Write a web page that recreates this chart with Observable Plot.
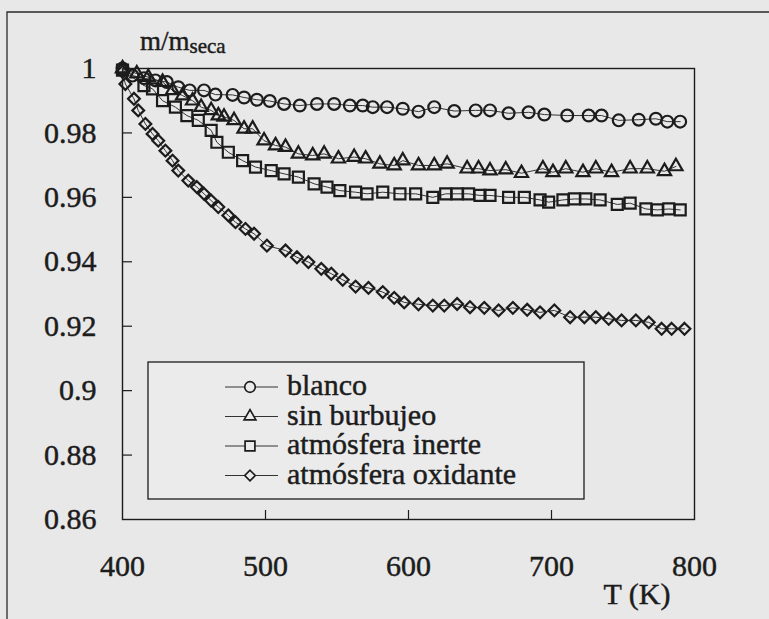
<!DOCTYPE html>
<html>
<head>
<meta charset="utf-8">
<script src="https://cdn.jsdelivr.net/npm/d3@7"></script>
<script src="https://cdn.jsdelivr.net/npm/@observablehq/plot@0.6"></script>
<style>
html, body { margin: 0; padding: 0; background: #e8e8e8; }
#chart { position: relative; width: 769px; height: 619px; overflow: hidden; }
#chart svg text { font-family: "Liberation Serif", Tinos, "Times New Roman", Times, "Nimbus Roman", "DejaVu Serif", serif !important; stroke: #1c1c1c; stroke-width: 0.45px; }
</style>
</head>
<body>
<div id="chart"></div>
<script>
// ---- data ----
const seriesNames = ["blanco", "sin burbujeo", "atmósfera inerte", "atmósfera oxidante"];
const seriesSymbols = ["circle", "triangle", "square", "diamond2"];
const xTicks = [400, 500, 600, 700, 800];
const yTicks = [0.86, 0.88, 0.9, 0.92, 0.94, 0.96, 0.98, 1];
const yLabel = "m/m";
const yLabelSub = "seca";
const xLabel = "T (K)";

const blancoT = [400, 407, 415, 423, 431, 439, 447, 457, 465, 477, 485, 494, 503, 513, 524, 536, 548, 559, 568, 575, 585, 596, 607, 618, 632, 647, 657, 670, 684, 695, 711, 726, 735, 747, 761, 773, 781, 790];
const blancoV = [1.000, 0.9978, 0.9970, 0.9963, 0.9958, 0.9942, 0.9932, 0.9932, 0.9919, 0.9918, 0.9910, 0.9903, 0.9899, 0.9890, 0.9885, 0.9890, 0.9890, 0.9885, 0.9885, 0.9880, 0.9880, 0.9875, 0.9866, 0.9880, 0.9868, 0.9870, 0.9870, 0.9861, 0.9864, 0.9857, 0.9854, 0.9854, 0.9854, 0.9839, 0.9841, 0.9844, 0.9835, 0.9835];

const burbT = [400, 410, 418, 428, 435, 442, 449, 455, 462, 467, 471, 478, 485, 491, 499, 507, 514, 523, 533, 541, 551, 562, 570, 580, 590, 596, 607, 618, 627, 641, 649, 657, 668, 679, 694, 701, 710, 722, 731, 742, 755, 767, 779, 787];
const burbV = [1.000, 0.9984, 0.9973, 0.9958, 0.9932, 0.9916, 0.9900, 0.9880, 0.9870, 0.9854, 0.9850, 0.9839, 0.9813, 0.9813, 0.9776, 0.9761, 0.9756, 0.9735, 0.9730, 0.9735, 0.9720, 0.9725, 0.9720, 0.9704, 0.9699, 0.9714, 0.9699, 0.9699, 0.9704, 0.9689, 0.9689, 0.9683, 0.9686, 0.9675, 0.9689, 0.9678, 0.9689, 0.9678, 0.9689, 0.9678, 0.9689, 0.9689, 0.9681, 0.9696];

const inerteT = [400, 415, 421, 428, 437, 445, 453, 462, 466, 474, 484, 493, 504, 513, 523, 534, 543, 552, 563, 571, 582, 594, 605, 617, 626, 634, 642, 650, 657, 670, 681, 692, 698, 708, 716, 724, 734, 746, 755, 766, 774, 782, 790];
const inerteV = [0.9995, 0.9947, 0.9937, 0.9900, 0.9880, 0.9854, 0.9839, 0.9808, 0.9771, 0.9740, 0.9714, 0.9694, 0.9683, 0.9673, 0.9663, 0.9642, 0.9632, 0.9621, 0.9616, 0.9611, 0.9616, 0.9611, 0.9611, 0.9600, 0.9611, 0.9611, 0.9611, 0.9606, 0.9606, 0.9600, 0.9600, 0.9592, 0.9585, 0.9592, 0.9595, 0.9595, 0.9592, 0.9578, 0.9582, 0.9564, 0.9561, 0.9564, 0.9561];

const oxidT = [400, 402, 408, 411, 416, 421, 425, 430, 435, 439, 446, 452, 457, 462, 467, 474, 479, 486, 492, 501, 514, 522, 530, 539, 546, 554, 563, 572, 582, 590, 597, 607, 617, 625, 634, 643, 653, 663, 673, 683, 692, 702, 713, 723, 731, 740, 749, 759, 768, 777, 784, 793];
const oxidV = [0.9990, 0.9952, 0.9906, 0.9870, 0.9828, 0.9797, 0.9776, 0.9745, 0.9714, 0.9683, 0.9652, 0.9632, 0.9611, 0.9590, 0.9570, 0.9544, 0.9523, 0.9502, 0.9487, 0.9450, 0.9435, 0.9414, 0.9399, 0.9378, 0.9363, 0.9344, 0.9323, 0.9319, 0.9306, 0.9288, 0.9274, 0.9268, 0.9264, 0.9264, 0.9269, 0.9259, 0.9257, 0.9249, 0.9257, 0.9251, 0.9243, 0.9249, 0.9228, 0.9228, 0.9228, 0.9223, 0.9218, 0.9218, 0.9212, 0.9192, 0.9192, 0.9192];

// ---- build table ----
const seriesT = [blancoT, burbT, inerteT, oxidT];
const seriesV = [blancoV, burbV, inerteV, oxidV];
const seriesR = [5.9, 4.9, 6.2, 5.3];
const rows = [];
seriesNames.forEach((name, i) => {
  seriesT[i].forEach((t, j) => rows.push({serie: name, T: t, v: seriesV[i][j]}));
});

const INK = "#1c1c1c";
const FONT = '"Liberation Serif", Tinos, "Times New Roman", Times, "Nimbus Roman", "DejaVu Serif", serif';

const innerY = yTicks.filter(t => t > 0.86 && t < 1);
const innerX = xTicks.filter(t => t > 400 && t < 800);

const marks = [
  Plot.frame({stroke: INK, strokeWidth: 1.4}),
  Plot.ruleY(innerY, {y: d => d, x1: 400, x2: 407, stroke: INK, strokeWidth: 1.2}),
  Plot.ruleX(innerX, {x: d => d, y1: 0.86, y2: 0.8628, stroke: INK, strokeWidth: 1.2}),
  Plot.axisY({ticks: yTicks, tickSize: 0, tickPadding: 26, fontSize: 30, label: null,
    tickFormat: d => String(+d.toFixed(2))}),
  Plot.axisX({ticks: xTicks, tickSize: 0, tickPadding: 35, fontSize: 30, label: null,
    tickFormat: d => String(d)}),
  Plot.line(rows, {x: "T", y: "v", z: "serie", stroke: "#333", strokeWidth: 1})
];
seriesNames.forEach((name, i) => {
  marks.push(Plot.dot(rows.filter(d => d.serie === name), {
    x: "T", y: "v", r: seriesR[i], symbol: () => seriesSymbols[i],
    stroke: INK, strokeWidth: 2.2, fill: "none"
  }));
});

const plot = Plot.plot({
  width: 769,
  height: 619,
  marginTop: 68,
  marginRight: 75,
  marginBottom: 100,
  marginLeft: 122,
  x: {domain: [400, 800]},
  y: {domain: [0.86, 1]},
  symbol: {type: "identity"},
  style: {fontFamily: FONT, fontSize: "30px", color: INK, background: "#e8e8e8", overflow: "visible"},
  marks
});
document.getElementById("chart").appendChild(plot);

// ---- annotations: outer scan frame, y label, x label, legend ----
const svg = d3.select(plot);
svg.append("path").attr("d", "M7,619V12H769").attr("fill", "none").attr("stroke", "#2a2a2a").attr("stroke-width", 1.3);

const yl = svg.append("text").attr("x", 140).attr("y", 50).attr("fill", INK)
  .attr("text-anchor", "start").attr("font-size", 27);
yl.append("tspan").text(yLabel);
yl.append("tspan").attr("font-size", 21).attr("dy", 3).text(yLabelSub);

svg.append("text").attr("x", 637).attr("y", 604).attr("text-anchor", "middle")
  .attr("fill", INK).attr("font-size", 30).text(xLabel);

const lg = svg.append("g");
lg.append("rect").attr("x", 148).attr("y", 362).attr("width", 436).attr("height", 137)
  .attr("fill", "#ebebeb").attr("stroke", INK).attr("stroke-width", 1.3);
const d3Sym = {circle: d3.symbolCircle, triangle: d3.symbolTriangle, square: d3.symbolSquare, diamond2: d3.symbolDiamond2};
seriesNames.forEach((name, i) => {
  const cy = 387 + i * 29.5;
  lg.append("line").attr("x1", 225).attr("x2", 278).attr("y1", cy).attr("y2", cy)
    .attr("stroke", "#333").attr("stroke-width", 1);
  lg.append("path").attr("transform", `translate(250,${cy})`)
    .attr("d", d3.symbol(d3Sym[seriesSymbols[i]], Math.PI * seriesR[i] * seriesR[i] * 0.8)())
    .attr("fill", "#ebebeb").attr("stroke", INK).attr("stroke-width", 1.7);
  lg.append("text").attr("x", 287).attr("y", cy + 8).attr("fill", INK)
    .attr("text-anchor", "start").attr("font-size", 30).text(name);
});
</script>
</body>
</html>
